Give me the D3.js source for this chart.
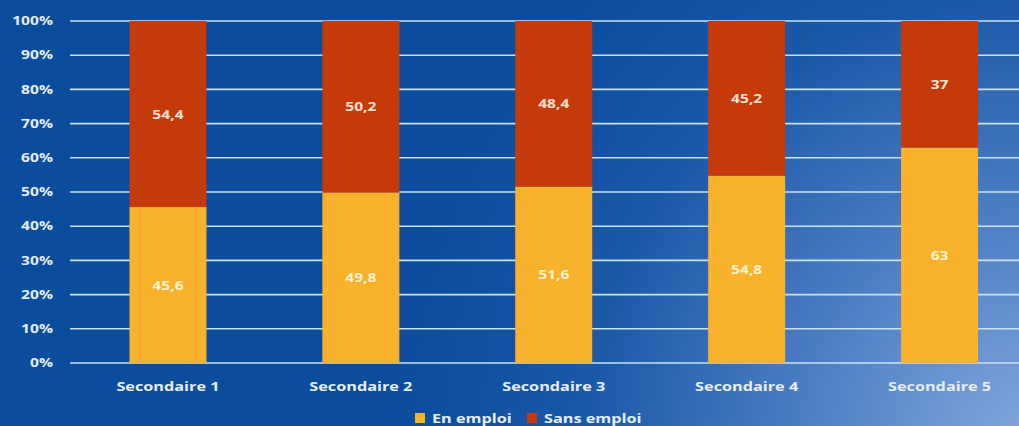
<!DOCTYPE html>
<html><head><meta charset="utf-8">
<script src="https://cdn.jsdelivr.net/npm/d3@7"></script>
<style>html,body{margin:0;padding:0;overflow:hidden;background:#0B4C9C}</style>
</head><body>
<script>
const categories = ["Secondaire 1","Secondaire 2","Secondaire 3","Secondaire 4","Secondaire 5"];
const enEmploi = [45.6, 49.8, 51.6, 54.8, 63];
const sansEmploi = [54.4, 50.2, 48.4, 45.2, 37];
const yTicks = [0,10,20,30,40,50,60,70,80,90,100];
const seriesNames = ["En emploi","Sans emploi"];
const colors = ["#F8B22C","#C53A08"];

const W = 1019, H = 426;
const FONT = "Open Sans, sans-serif";
const svg = d3.select("body").append("svg").attr("width", W).attr("height", H);
const defs = svg.append("defs");
const g1 = defs.append("radialGradient").attr("id","bg").attr("gradientUnits","userSpaceOnUse")
  .attr("cx", 1030).attr("cy", 440).attr("r", 640);
g1.append("stop").attr("offset","0%").attr("stop-color","#82A6DC");
g1.append("stop").attr("offset","30%").attr("stop-color","#5584C8");
g1.append("stop").attr("offset","70%").attr("stop-color","#1A58A8");
g1.append("stop").attr("offset","100%").attr("stop-color","#0B4C9C");
svg.append("rect").attr("width",W).attr("height",H).attr("fill","url(#bg)");

const x = d3.scaleBand().domain(categories).range([71.5, 1036]).paddingInner(0.6).paddingOuter(0.3);
const y = d3.scaleLinear().domain([0,100]).range([363, 21]);
const cx = c => x(c) + x.bandwidth()/2;

// gridlines
svg.append("g").selectAll("line").data(yTicks).join("line")
  .attr("x1", 70).attr("x2", W).attr("y1", d=>y(d)).attr("y2", d=>y(d))
  .attr("stroke","#C6E3EF").attr("stroke-width",1.6);

// y labels
svg.append("g").selectAll("text").data(yTicks).join("text")
  .attr("transform", d=>`translate(53,${y(d)}) scale(1.3,1)`).attr("dy","0.35em").attr("text-anchor","end")
  .attr("font-family",FONT).attr("font-weight","bold").attr("font-size",12)
  .attr("fill","#E6EEF6").text(d=>d+"%");

const data = categories.map((c,i)=>({cat:c, a:enEmploi[i], b:sansEmploi[i]}));
const stack = d3.stack().keys(["a","b"])(data);

const bw = 77;
stack.forEach((s,si)=>{
  svg.append("g").selectAll("rect").data(s).join("rect")
    .attr("x", d=>cx(d.data.cat)-bw/2).attr("width", bw)
    .attr("y", d=>y(d[1])).attr("height", d=>y(d[0])-y(d[1]))
    .attr("fill", colors[si]);
  svg.append("g").selectAll("text").data(s).join("text")
    .attr("transform", d=>`translate(${cx(d.data.cat)},${y((d[0]+d[1])/2)}) scale(1.2,1)`).attr("dy","0.35em")
    .attr("text-anchor","middle").attr("font-family",FONT).attr("font-weight","bold")
    .attr("font-size",13).attr("fill", si===0 ? "#FFF1D2" : "#F6E2D8")
    .text(d=>String(si===0?d.data.a:d.data.b).replace(".",","));
});

// x labels
svg.append("g").selectAll("text").data(categories).join("text")
  .attr("transform", d=>`translate(${cx(d)},386) scale(1.25,1)`).attr("dy","0.35em").attr("text-anchor","middle")
  .attr("font-family",FONT).attr("font-weight","bold").attr("font-size",13)
  .attr("fill","#E6EEF6").text(d=>d);

// legend
const leg = svg.append("g");
const lx = [415, 527];
seriesNames.forEach((n,i)=>{
  leg.append("rect").attr("x", lx[i]).attr("y", 413).attr("width",10).attr("height",10).attr("fill",colors[i]);
  leg.append("text").attr("transform", `translate(${lx[i]+17},418) scale(1.25,1)`).attr("dy","0.35em")
    .attr("font-family",FONT).attr("font-weight","bold").attr("font-size",13)
    .attr("fill","#E6EEF6").text(n);
});
</script>
</body></html>
